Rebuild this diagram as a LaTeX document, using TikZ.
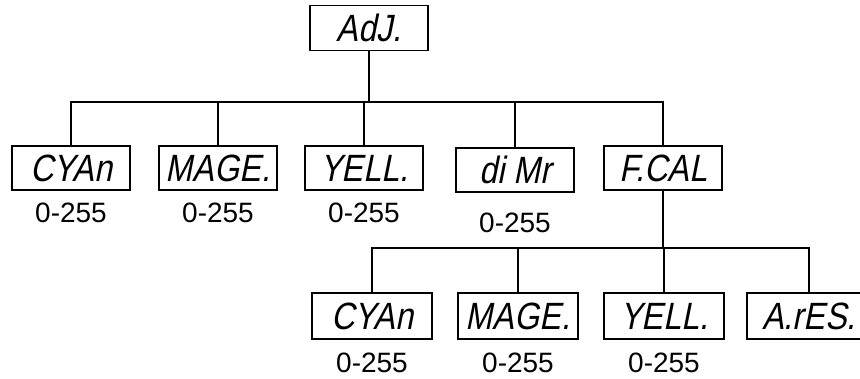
\documentclass[tikz,border=0pt]{standalone}
\usepackage{fontspec}
\setmainfont{Liberation Sans}
\newfontfamily\segfont[FakeSlant=0.2,FakeStretch=0.85]{Liberation Sans}
\begin{document}
\begin{tikzpicture}[x=1pt,y=-1pt,
  disp/.style={rectangle, draw, line width=1.6pt, minimum width=118pt, minimum height=44pt, inner sep=0pt, font=\segfont\fontsize{38}{38}\selectfont},
  rangelabel/.style={inner sep=0pt, font=\fontsize{28}{28}\selectfont},
  link/.style={line width=1.6pt}]
  \useasboundingbox (0,0) rectangle (860,378);

  % Nodes
  \node (adj) at (369,28) [disp, minimum height=45pt] {AdJ.};

  \node (cyan) at (71,168) [disp] {CYAn};
  \node (mage) at (218,168) [disp] {MAGE.};
  \node (yell) at (364,168) [disp] {YELL.};
  \node (dimr) at (515,170) [disp] {di Mr};
  \node (fcal) at (663,168) [disp] {F.CAL};

  \node (cyanval) at (71,213) [rangelabel] {0-255};
  \node (mageval) at (218,213) [rangelabel] {0-255};
  \node (yellval) at (364,213) [rangelabel] {0-255};
  \node (dimrval) at (515,223) [rangelabel] {0-255};

  \node (subcyan) at (372,316) [disp, minimum height=46pt, minimum width=120pt] {CYAn};
  \node (submage) at (518,316) [disp, minimum height=46pt, minimum width=120pt] {MAGE.};
  \node (subyell) at (664,316) [disp, minimum height=46pt, minimum width=120pt] {YELL.};
  \node (ares) at (809,316) [disp, minimum height=46pt, minimum width=124pt] {A.rES.};

  \node (subcyanval) at (372,363) [rangelabel] {0-255};
  \node (submageval) at (518,363) [rangelabel] {0-255};
  \node (subyellval) at (664,363) [rangelabel] {0-255};

  \coordinate (busone) at (0,102);
  \coordinate (bustwo) at (0,248);

  % Edges
  \foreach \n in {cyan,mage,yell,dimr,fcal}
    \draw[link] (adj.south) -- (adj.south |- busone) -| (\n.north);
  \foreach \n in {subcyan,submage,subyell,ares}
    \draw[link] (fcal.south) -- (fcal.south |- bustwo) -| (\n.north);
\end{tikzpicture}
\end{document}
